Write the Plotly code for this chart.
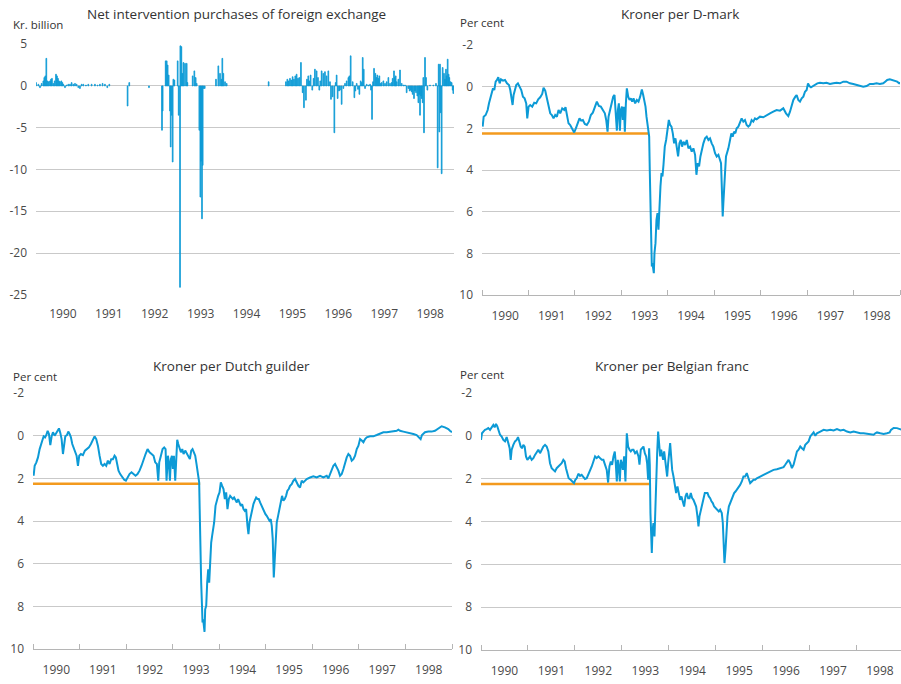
import plotly.graph_objects as go
import pandas as pd

# ---------------- data ----------------
# Net intervention purchases of foreign exchange, kr. billion (decimal year, value)
interv_year = [
    1989.913, 1989.964, 1990.000, 1990.036, 1990.073, 1990.094, 1990.116, 1990.138, 1990.160, 1990.189,
    1990.218, 1990.240, 1990.261, 1990.290, 1990.320, 1990.349, 1990.370, 1990.392, 1990.414, 1990.436,
    1990.465, 1990.487, 1990.508, 1990.545, 1990.581, 1990.617, 1990.654, 1990.690, 1990.726, 1990.763,
    1990.799, 1990.835, 1990.871, 1990.908, 1990.944, 1991.002, 1991.053, 1991.126, 1991.198, 1991.256,
    1991.307, 1991.365, 1991.416, 1991.467, 1991.511, 1991.910, 1991.946, 1992.375,
    1992.658, 1992.672, 1992.738, 1992.760, 1992.781, 1992.803, 1992.832, 1992.847, 1992.869, 1992.890,
    1992.905, 1992.927, 1992.999, 1993.021, 1993.050, 1993.057, 1993.079, 1993.101, 1993.123, 1993.159,
    1993.195, 1993.210, 1993.326, 1993.362, 1993.391, 1993.413, 1993.471, 1993.493, 1993.508, 1993.529,
    1993.544, 1993.566, 1993.588, 1993.834, 1993.885, 1993.922, 1993.951, 1993.972, 1993.994, 1994.031,
    1994.067, 1994.982,
    1995.359, 1995.389, 1995.418, 1995.447, 1995.476, 1995.505, 1995.534, 1995.563, 1995.592, 1995.621,
    1995.650, 1995.686, 1995.723, 1995.752, 1995.795, 1995.817, 1995.846, 1995.868, 1995.897, 1995.933,
    1995.962, 1995.991, 1996.028, 1996.057, 1996.086, 1996.107, 1996.137, 1996.173, 1996.209, 1996.245,
    1996.282, 1996.318, 1996.340, 1996.376, 1996.413, 1996.442, 1996.463, 1996.485, 1996.514, 1996.536,
    1996.572, 1996.609, 1996.645, 1996.681, 1996.718, 1996.739, 1996.768, 1996.812, 1996.848, 1996.870,
    1996.899, 1996.928, 1996.957, 1996.986, 1997.008, 1997.030, 1997.052, 1997.081, 1997.117, 1997.153,
    1997.190, 1997.211, 1997.233, 1997.255, 1997.277, 1997.306, 1997.328, 1997.349, 1997.371, 1997.393,
    1997.422, 1997.444, 1997.480, 1997.516, 1997.553, 1997.589, 1997.625, 1997.662, 1997.683, 1997.712,
    1997.734, 1997.749, 1997.771, 1997.807, 1997.843, 1997.880, 1997.916, 1997.952, 1997.988, 1998.025,
    1998.054, 1998.076, 1998.097, 1998.119, 1998.148, 1998.170, 1998.192, 1998.221, 1998.243, 1998.264,
    1998.279, 1998.301, 1998.315, 1998.337, 1998.351, 1998.366, 1998.388, 1998.410, 1998.439, 1998.497,
    1998.569, 1998.627, 1998.664, 1998.686, 1998.700, 1998.715, 1998.729, 1998.751, 1998.773, 1998.802,
    1998.824, 1998.845, 1998.860, 1998.882, 1998.903, 1998.918, 1998.947, 1998.969, 1998.991, 1999.005,
]
interv_value = [
    0.4, 0.2, -0.2, 0.3, 0.6, 1.0, 1.2, 3.3, 0.6, 0.5,
    0.6, 0.8, 0.9, 0.3, 0.6, 1.4, 1.2, 0.9, 0.6, 0.5,
    0.6, 0.4, 0.2, -0.2, 0.1, 0.2, 0.2, 0.4, 0.2, 0.3,
    0.2, -0.2, -0.3, 0.2, 0.2, 0.1, 0.2, 0.2, 0.2, 0.1,
    0.2, 0.3, 0.2, -0.2, 0.2, -2.4, 0.4, -0.2,
    -5.3, -3.0, 3.0, 3.0, 2.5, 1.3, -3.0, -7.3, -3.5, -9.1,
    0.8, 0.7, 3.0, -3.5, -24.1, 4.8, 4.7, 1.5, 2.8, 2.7,
    2.7, 0.4, 1.2, 1.8, 1.0, 0.3, -5.3, -13.3, -9.0, -15.9,
    -9.5, -0.3, -0.3, 0.8, 2.4, 1.5, 0.8, 3.3, 1.5, 0.5,
    0.3, 0.5,
    0.5, 0.8, 0.6, 0.9, 0.7, 1.1, 0.8, 1.2, 1.4, 0.9,
    1.0, 2.8, -0.8, -2.6, -1.7, 0.8, 1.2, 0.6, 1.3, -0.5,
    0.9, 2.0, 1.8, 1.0, -0.5, 0.6, 1.8, 1.5, 1.7, 1.2,
    1.8, 0.5, -1.6, -1.3, -5.6, 0.4, 1.3, -1.5, -0.6, -0.5,
    -2.2, -0.3, 0.3, 0.6, 1.0, 1.2, 3.6, 0.5, -1.4, -0.6,
    0.3, -0.4, -1.0, 0.6, 0.4, 3.4, 2.0, -0.3, 0.2, 0.1,
    0.2, -0.5, -4.0, 0.5, 2.1, 1.5, 1.0, 1.3, 0.9, 1.2,
    0.3, 0.4, 0.6, 0.3, 0.5, 1.0, 0.3, 0.4, 0.9, 1.8,
    1.0, 1.2, 0.5, 0.8, 1.9, 0.3, 0.1, 0.1, -0.8, -0.3,
    -0.6, -0.5, -0.7, -1.0, -1.5, -0.6, -0.8, -1.2, -2.0, -1.0,
    -3.5, -1.2, -1.5, -2.0, 1.0, -5.6, 3.4, 1.0, -0.5, 0.1,
    0.1, 0.3, -9.8, 2.6, -5.5, 2.6, -3.2, -10.5, 2.2, 1.5,
    0.8, 2.0, 1.2, 3.2, 1.4, 1.0, 0.5, 0.4, -0.5, -0.9,
]

# Kroner per D-mark, per cent deviation (decimal year, value)
dem_year = [
    1990.014, 1990.036, 1990.079, 1990.122, 1990.151, 1990.179, 1990.208, 1990.237, 1990.265, 1990.294,
    1990.323, 1990.351, 1990.380, 1990.409, 1990.452, 1990.495, 1990.538, 1990.581, 1990.609, 1990.638,
    1990.659, 1990.681, 1990.710, 1990.738, 1990.774, 1990.810, 1990.846, 1990.882, 1990.918, 1990.953,
    1990.975, 1991.004, 1991.039, 1991.082, 1991.125, 1991.168, 1991.211, 1991.254, 1991.297, 1991.326,
    1991.362, 1991.398, 1991.434, 1991.470, 1991.505, 1991.541, 1991.577, 1991.613, 1991.649, 1991.685,
    1991.728, 1991.771, 1991.799, 1991.828, 1991.864, 1991.900, 1991.943, 1991.986, 1992.022, 1992.057,
    1992.100, 1992.136, 1992.172, 1992.215, 1992.258, 1992.301, 1992.344, 1992.387, 1992.430, 1992.473,
    1992.516, 1992.559, 1992.602, 1992.645, 1992.674, 1992.703, 1992.724, 1992.753, 1992.789, 1992.824,
    1992.853, 1992.882, 1992.903, 1992.925, 1992.946, 1992.968, 1992.989, 1993.011, 1993.032, 1993.054,
    1993.075, 1993.097, 1993.118, 1993.147, 1993.176, 1993.204, 1993.233, 1993.262, 1993.297, 1993.333,
    1993.369, 1993.405, 1993.441, 1993.470, 1993.498, 1993.520, 1993.541, 1993.563, 1993.584, 1993.599,
    1993.613, 1993.627, 1993.642, 1993.656, 1993.670, 1993.685, 1993.699, 1993.713, 1993.735, 1993.756,
    1993.778, 1993.799, 1993.821, 1993.842, 1993.864, 1993.885, 1993.907, 1993.935, 1993.964, 1993.993,
    1994.022, 1994.050, 1994.079, 1994.108, 1994.136, 1994.165, 1994.194, 1994.222, 1994.251, 1994.280,
    1994.308, 1994.337, 1994.373, 1994.409, 1994.444, 1994.480, 1994.516, 1994.552, 1994.588, 1994.617,
    1994.645, 1994.674, 1994.703, 1994.731, 1994.767, 1994.803, 1994.839, 1994.875, 1994.910, 1994.946,
    1994.982, 1995.018, 1995.054, 1995.090, 1995.125, 1995.147, 1995.168, 1995.183, 1995.197, 1995.211,
    1995.233, 1995.254, 1995.276, 1995.305, 1995.341, 1995.369, 1995.398, 1995.427, 1995.455, 1995.484,
    1995.520, 1995.556, 1995.591, 1995.627, 1995.663, 1995.699, 1995.735, 1995.771, 1995.806, 1995.842,
    1995.878, 1995.914, 1995.986, 1996.057, 1996.129, 1996.201, 1996.272, 1996.344, 1996.416, 1996.487,
    1996.545, 1996.595, 1996.631, 1996.667, 1996.703, 1996.746, 1996.774, 1996.810, 1996.846, 1996.882,
    1996.918, 1996.953, 1996.989, 1997.018, 1997.047, 1997.082, 1997.118, 1997.168, 1997.219, 1997.276,
    1997.348, 1997.419, 1997.491, 1997.563, 1997.634, 1997.706, 1997.778, 1997.849, 1997.921, 1997.993,
    1998.065, 1998.136, 1998.208, 1998.280, 1998.351, 1998.423, 1998.495, 1998.566, 1998.638, 1998.681,
    1998.724, 1998.781, 1998.839, 1998.896, 1998.939, 1998.982, 1999.004,
]
dem_value = [
    1.92, 1.44, 1.36, 1.12, 0.80, 0.56, 0.40, 0.08, 0.16, -0.24,
    -0.32, -0.45, -0.16, -0.35, -0.29, -0.32, -0.16, -0.08, 0.16, 0.48,
    0.88, 0.40, 0.08, -0.08, -0.16, 0.03, 0.16, 0.48, 0.56, 0.80,
    1.52, 0.96, 0.88, 0.96, 0.77, 0.80, 0.61, 0.51, 0.35, 0.05,
    0.19, 0.56, 0.96, 1.28, 1.36, 1.52, 1.36, 1.44, 1.12, 1.28,
    1.04, 1.12, 0.99, 1.36, 1.76, 1.84, 2.00, 2.20, 2.00, 1.79,
    1.52, 1.63, 1.60, 1.79, 1.84, 1.68, 1.36, 1.25, 0.96, 0.72,
    0.93, 0.96, 1.12, 1.28, 1.60, 2.16, 1.44, 1.12, 0.80, 0.48,
    0.40, 1.28, 2.11, 1.12, 0.80, 2.11, 1.12, 0.96, 1.60, 0.96,
    2.16, 0.80, 0.08, 0.48, 0.64, 0.56, 0.72, 0.56, 0.80, 0.64,
    0.72, 0.48, 0.13, 0.40, 0.64, 0.96, 1.44, 1.84, 2.24, 2.40,
    4.15, 6.23, 7.03, 8.63, 8.47, 8.87, 8.95, 7.99, 7.51, 6.39,
    6.07, 6.87, 5.43, 4.79, 4.15, 4.31, 3.75, 2.88, 2.56, 2.08,
    1.60, 1.84, 1.92, 2.24, 2.72, 2.48, 2.88, 3.35, 2.72, 2.56,
    2.88, 2.64, 2.80, 2.56, 2.96, 2.88, 3.12, 2.96, 3.27, 4.23,
    3.67, 3.83, 3.35, 3.04, 2.72, 2.48, 2.40, 2.56, 2.48, 2.72,
    2.88, 3.19, 3.35, 3.27, 3.59, 3.67, 5.11, 6.23, 5.59, 4.79,
    4.15, 3.35, 3.19, 2.96, 2.56, 2.24, 2.40, 2.16, 2.24, 2.00,
    1.92, 1.68, 1.52, 1.68, 1.60, 1.84, 1.92, 1.84, 1.60, 1.68,
    1.52, 1.57, 1.44, 1.47, 1.36, 1.28, 1.20, 1.12, 1.15, 1.04,
    1.28, 1.41, 1.20, 0.88, 0.64, 0.48, 0.40, 0.64, 0.72, 0.56,
    0.48, 0.24, 0.16, -0.16, -0.03, 0.03, -0.03, -0.08, -0.16, -0.19,
    -0.16, -0.19, -0.13, -0.16, -0.19, -0.16, -0.24, -0.24, -0.16, -0.13,
    -0.08, -0.05, 0.00, -0.03, -0.13, -0.13, -0.16, -0.13, -0.16, -0.24,
    -0.32, -0.35, -0.32, -0.29, -0.24, -0.16, -0.19,
]

# Kroner per Dutch guilder, per cent deviation
nlg_year = [
    1990.014, 1990.036, 1990.072, 1990.107, 1990.143, 1990.172, 1990.200, 1990.229, 1990.258, 1990.286,
    1990.315, 1990.343, 1990.372, 1990.401, 1990.429, 1990.465, 1990.501, 1990.529, 1990.558, 1990.587,
    1990.615, 1990.644, 1990.665, 1990.694, 1990.730, 1990.758, 1990.787, 1990.815, 1990.844, 1990.873,
    1990.908, 1990.937, 1990.966, 1990.994, 1991.030, 1991.073, 1991.116, 1991.159, 1991.202, 1991.245,
    1991.288, 1991.323, 1991.359, 1991.395, 1991.431, 1991.466, 1991.502, 1991.538, 1991.574, 1991.609,
    1991.645, 1991.681, 1991.717, 1991.753, 1991.781, 1991.803, 1991.838, 1991.874, 1991.917, 1991.960,
    1991.996, 1992.031, 1992.074, 1992.117, 1992.160, 1992.203, 1992.246, 1992.289, 1992.332, 1992.375,
    1992.418, 1992.461, 1992.504, 1992.547, 1992.589, 1992.625, 1992.661, 1992.690, 1992.711, 1992.747,
    1992.783, 1992.818, 1992.847, 1992.868, 1992.897, 1992.918, 1992.940, 1992.961, 1992.983, 1993.004,
    1993.026, 1993.054, 1993.076, 1993.097, 1993.119, 1993.147, 1993.176, 1993.205, 1993.233, 1993.269,
    1993.305, 1993.341, 1993.369, 1993.398, 1993.426, 1993.455, 1993.484, 1993.512, 1993.534, 1993.555,
    1993.569, 1993.584, 1993.598, 1993.612, 1993.627, 1993.641, 1993.655, 1993.670, 1993.684, 1993.698,
    1993.720, 1993.741, 1993.763, 1993.784, 1993.806, 1993.827, 1993.848, 1993.870, 1993.891, 1993.920,
    1993.949, 1993.977, 1994.006, 1994.034, 1994.063, 1994.092, 1994.120, 1994.149, 1994.177, 1994.206,
    1994.235, 1994.263, 1994.292, 1994.320, 1994.349, 1994.378, 1994.406, 1994.435, 1994.464, 1994.492,
    1994.521, 1994.549, 1994.578, 1994.607, 1994.628, 1994.650, 1994.678, 1994.707, 1994.735, 1994.764,
    1994.793, 1994.821, 1994.850, 1994.878, 1994.907, 1994.936, 1994.964, 1994.993, 1995.021, 1995.050,
    1995.079, 1995.107, 1995.129, 1995.150, 1995.172, 1995.186, 1995.207, 1995.236, 1995.265, 1995.293,
    1995.322, 1995.350, 1995.379, 1995.408, 1995.436, 1995.465, 1995.494, 1995.522, 1995.558, 1995.594,
    1995.630, 1995.665, 1995.701, 1995.737, 1995.773, 1995.808, 1995.844, 1995.880, 1995.951, 1996.023,
    1996.094, 1996.166, 1996.238, 1996.309, 1996.345, 1996.381, 1996.416, 1996.452, 1996.488, 1996.524,
    1996.559, 1996.595, 1996.631, 1996.667, 1996.702, 1996.738, 1996.774, 1996.810, 1996.845, 1996.881,
    1996.917, 1996.953, 1996.989, 1997.024, 1997.060, 1997.096, 1997.132, 1997.167, 1997.239, 1997.310,
    1997.382, 1997.454, 1997.525, 1997.597, 1997.668, 1997.740, 1997.811, 1997.847, 1997.883, 1997.954,
    1998.026, 1998.097, 1998.169, 1998.240, 1998.298, 1998.326, 1998.355, 1998.419, 1998.491, 1998.562,
    1998.634, 1998.705, 1998.777, 1998.848, 1998.920, 1998.956, 1998.999,
]
nlg_value = [
    1.88, 1.41, 1.25, 1.02, 0.63, 0.47, 0.23, 0.03, 0.08, -0.03,
    -0.23, -0.08, 0.44, 0.03, -0.16, 0.00, -0.16, -0.23, -0.34, -0.13,
    0.16, 0.86, 0.39, 0.03, -0.03, -0.19, -0.08, 0.08, 0.39, 0.55,
    0.78, 0.94, 1.41, 0.94, 0.86, 0.91, 0.70, 0.63, 0.55, 0.39,
    0.23, 0.03, 0.16, 0.47, 0.94, 1.33, 1.41, 1.33, 1.41, 1.17,
    1.33, 1.10, 1.10, 0.94, 1.02, 1.33, 1.64, 1.80, 1.96, 2.07,
    2.11, 1.96, 1.80, 1.72, 1.80, 1.88, 1.80, 1.64, 1.41, 1.10,
    0.86, 0.63, 0.78, 0.86, 0.94, 1.25, 1.33, 2.11, 1.25, 0.94,
    0.63, 0.55, 0.63, 2.11, 0.94, 1.25, 2.11, 1.10, 0.94, 1.56,
    0.94, 2.11, 0.63, 0.19, 0.39, 0.63, 0.78, 0.63, 0.86, 0.70,
    0.86, 0.94, 1.10, 0.70, 0.63, 0.78, 0.94, 1.33, 1.64, 1.96,
    2.19, 3.91, 6.26, 6.89, 7.82, 8.76, 8.61, 8.92, 9.20, 8.14,
    7.98, 6.89, 6.26, 6.89, 5.63, 5.01, 4.69, 4.38, 4.07, 3.29,
    2.97, 2.82, 2.66, 2.19, 2.35, 2.50, 2.97, 2.66, 3.44, 2.97,
    2.82, 2.90, 2.97, 2.90, 3.05, 3.13, 2.97, 3.13, 3.29, 3.21,
    3.44, 3.52, 3.44, 4.23, 4.62, 4.07, 3.76, 3.44, 3.21, 3.05,
    2.90, 2.97, 2.97, 3.13, 3.29, 3.44, 3.60, 3.68, 3.76, 3.91,
    3.99, 3.91, 4.23, 4.85, 6.65, 6.10, 4.85, 4.07, 3.76, 3.44,
    3.29, 2.82, 3.05, 2.97, 2.82, 2.58, 2.50, 2.35, 2.27, 2.11,
    2.03, 2.19, 2.35, 2.43, 2.11, 2.19, 2.11, 2.03, 1.96, 1.91,
    1.96, 1.88, 1.96, 1.88, 2.00, 1.80, 1.64, 1.41, 1.33, 1.49,
    1.64, 1.88, 1.80, 1.56, 1.25, 1.02, 0.86, 0.94, 1.17, 1.10,
    0.94, 0.63, 0.47, 0.16, 0.23, 0.31, 0.16, 0.08, 0.03, 0.03,
    -0.03, -0.08, -0.16, -0.16, -0.19, -0.19, -0.23, -0.28, -0.23, -0.19,
    -0.16, -0.13, -0.08, -0.03, 0.08, 0.16, -0.03, -0.16, -0.19, -0.19,
    -0.23, -0.34, -0.44, -0.39, -0.31, -0.23, -0.16,
]

# Kroner per Belgian franc, per cent deviation
bef_year = [
    1990.000, 1990.021, 1990.050, 1990.085, 1990.121, 1990.156, 1990.192, 1990.227, 1990.263, 1990.291,
    1990.320, 1990.348, 1990.377, 1990.405, 1990.441, 1990.476, 1990.512, 1990.547, 1990.583, 1990.611,
    1990.633, 1990.654, 1990.689, 1990.725, 1990.760, 1990.789, 1990.817, 1990.846, 1990.874, 1990.903,
    1990.931, 1990.959, 1990.988, 1991.016, 1991.045, 1991.080, 1991.116, 1991.151, 1991.187, 1991.222,
    1991.258, 1991.294, 1991.329, 1991.365, 1991.400, 1991.436, 1991.471, 1991.507, 1991.542, 1991.578,
    1991.613, 1991.649, 1991.684, 1991.720, 1991.755, 1991.784, 1991.812, 1991.841, 1991.869, 1991.912,
    1991.955, 1991.983, 1992.011, 1992.040, 1992.075, 1992.111, 1992.146, 1992.182, 1992.217, 1992.253,
    1992.289, 1992.324, 1992.360, 1992.395, 1992.431, 1992.466, 1992.502, 1992.537, 1992.573, 1992.608,
    1992.644, 1992.679, 1992.708, 1992.736, 1992.765, 1992.793, 1992.822, 1992.850, 1992.871, 1992.893,
    1992.914, 1992.935, 1992.957, 1992.978, 1992.999, 1993.021, 1993.049, 1993.077, 1993.106, 1993.134,
    1993.163, 1993.191, 1993.220, 1993.248, 1993.283, 1993.319, 1993.355, 1993.376, 1993.404, 1993.433,
    1993.461, 1993.490, 1993.518, 1993.539, 1993.561, 1993.582, 1993.596, 1993.610, 1993.625, 1993.639,
    1993.653, 1993.674, 1993.696, 1993.710, 1993.731, 1993.753, 1993.774, 1993.795, 1993.817, 1993.838,
    1993.859, 1993.881, 1993.902, 1993.923, 1993.945, 1993.966, 1993.987, 1994.009, 1994.030, 1994.051,
    1994.073, 1994.101, 1994.129, 1994.158, 1994.186, 1994.215, 1994.243, 1994.271, 1994.300, 1994.328,
    1994.357, 1994.385, 1994.414, 1994.442, 1994.470, 1994.499, 1994.527, 1994.556, 1994.584, 1994.612,
    1994.634, 1994.655, 1994.684, 1994.712, 1994.740, 1994.769, 1994.797, 1994.826, 1994.854, 1994.883,
    1994.911, 1994.939, 1994.968, 1994.996, 1995.025, 1995.067, 1995.096, 1995.131, 1995.153, 1995.174,
    1995.188, 1995.210, 1995.231, 1995.252, 1995.281, 1995.309, 1995.338, 1995.366, 1995.394, 1995.423,
    1995.451, 1995.487, 1995.522, 1995.558, 1995.593, 1995.629, 1995.664, 1995.700, 1995.736, 1995.771,
    1995.807, 1995.842, 1995.878, 1995.949, 1996.020, 1996.091, 1996.162, 1996.233, 1996.304, 1996.375,
    1996.446, 1996.482, 1996.517, 1996.553, 1996.588, 1996.624, 1996.660, 1996.695, 1996.731, 1996.766,
    1996.802, 1996.837, 1996.873, 1996.908, 1996.944, 1996.979, 1997.015, 1997.050, 1997.086, 1997.122,
    1997.157, 1997.228, 1997.299, 1997.370, 1997.441, 1997.513, 1997.584, 1997.655, 1997.726, 1997.797,
    1997.868, 1997.939, 1998.010, 1998.081, 1998.152, 1998.224, 1998.295, 1998.366, 1998.401, 1998.437,
    1998.508, 1998.579, 1998.650, 1998.707, 1998.735, 1998.792, 1998.863, 1998.920, 1998.955, 1999.005,
]
bef_value = [
    0.19, -0.12, -0.20, -0.28, -0.31, -0.36, -0.28, -0.40, -0.51, -0.40,
    -0.56, -0.44, -0.20, -0.05, 0.03, 0.19, 0.26, 0.06, 0.34, 0.58,
    1.12, 0.65, 0.42, 0.26, 0.19, 0.06, 0.26, 0.50, 0.58, 0.42,
    0.50, 0.96, 1.12, 1.04, 0.96, 1.12, 1.04, 0.89, 0.73, 0.65,
    0.81, 0.65, 0.50, 0.42, 0.50, 0.73, 1.28, 1.51, 1.59, 1.66,
    1.51, 1.43, 1.35, 1.28, 1.12, 1.20, 1.51, 1.82, 1.98, 2.05,
    2.13, 2.21, 2.05, 1.98, 1.77, 1.87, 1.82, 1.93, 2.02, 1.98,
    1.82, 1.59, 1.43, 1.20, 0.96, 1.04, 0.96, 1.04, 1.12, 1.12,
    1.35, 1.59, 2.18, 1.43, 1.20, 1.35, 0.96, 0.73, 1.28, 2.13,
    1.12, 1.43, 2.13, 1.12, 1.28, 1.59, 0.96, 2.13, -0.12, 0.50,
    0.65, 0.73, 0.65, 0.65, 0.81, 0.73, 0.96, 1.35, 0.65, 0.58,
    0.50, 0.81, 0.96, 1.28, 2.05, 0.58, 1.35, 3.61, 4.39, 5.47,
    4.46, 4.07, 4.70, 3.45, 1.90, 0.81, -0.20, 0.34, 0.96, 0.65,
    0.96, 1.12, 0.73, 1.12, 1.74, 1.90, 1.28, 0.65, 0.34, 0.96,
    1.59, 1.90, 2.21, 2.67, 2.36, 2.67, 2.99, 2.83, 3.14, 3.30,
    2.83, 2.67, 2.91, 2.91, 2.67, 2.91, 2.99, 3.14, 3.30, 3.76,
    4.23, 3.76, 3.45, 3.14, 2.83, 2.67, 2.67, 2.67, 2.83, 2.91,
    3.06, 3.14, 3.30, 3.37, 3.45, 3.53, 3.45, 3.61, 4.07, 5.16,
    5.94, 5.32, 4.39, 3.76, 3.30, 3.14, 2.99, 2.83, 2.67, 2.60,
    2.52, 2.44, 2.29, 2.13, 1.90, 1.90, 1.74, 1.98, 2.21, 2.13,
    2.05, 2.05, 1.98, 1.90, 1.82, 1.74, 1.66, 1.59, 1.56, 1.51,
    1.46, 1.35, 1.20, 1.12, 1.28, 1.51, 1.35, 1.04, 0.73, 0.65,
    0.50, 0.58, 0.65, 0.42, 0.34, 0.26, 0.03, -0.05, -0.16, 0.00,
    -0.12, -0.20, -0.28, -0.25, -0.28, -0.25, -0.31, -0.25, -0.28, -0.20,
    -0.16, -0.20, -0.16, -0.12, -0.12, -0.09, -0.09, -0.05, -0.12, -0.16,
    -0.12, -0.09, -0.12, -0.16, -0.28, -0.37, -0.36, -0.31, -0.28, -0.25,
]

# ERM fluctuation band limit (per cent) and the period it applied
band_limit = 2.25
band_years = [1990.0, 1993.59]

# axis ticks and labels
interv_ticks = [5, 0, -5, -10, -15, -20, -25]
interv_ticklabels = ["5", "0", "-5", "-10", "-15", "-20", "-25"]
pct_ticks = [-2, 0, 2, 4, 6, 8, 10]
pct_ticklabels = ["-2", "0", "2", "4", "6", "8", "10"]
axis_years = [1990, 1999]

for a, b in [(interv_year, interv_value), (dem_year, dem_value), (nlg_year, nlg_value), (bef_year, bef_value)]:
    assert len(a) == len(b), (len(a), len(b))


def to_date(y):
    yr = int(y // 1)
    start = pd.Timestamp(year=yr, month=1, day=1)
    end = pd.Timestamp(year=yr + 1, month=1, day=1)
    return start + (end - start) * (y - yr)


def dates(ys):
    return [to_date(y) for y in ys]


# ---------------- styling ----------------
W, H = 901, 684
BLUE = "#0c9ad6"
ORANGE = "#f39a1e"
GRID = "#c9c9c9"
TICKC = "#4a4a4a"
FONT = "Open Sans"


def px_x(a, b):
    return [a / W, min(b / W, 1.0)]


def px_y(top, bottom):
    return [(H - bottom) / H, (H - top) / H]


fig = go.Figure()

# top-left: bars
fig.add_trace(go.Bar(
    x=dates(interv_year), y=interv_value, xaxis="x", yaxis="y",
    width=6 * 86400000, marker=dict(color=BLUE, line=dict(color=BLUE, width=0.8)),
))

# line panels
for xa, ya, yrs, vals in [("x2", "y2", dem_year, dem_value),
                          ("x3", "y3", nlg_year, nlg_value),
                          ("x4", "y4", bef_year, bef_value)]:
    fig.add_trace(go.Scatter(
        x=dates(band_years), y=[band_limit, band_limit], xaxis=xa, yaxis=ya,
        mode="lines", line=dict(color=ORANGE, width=2.5), hoverinfo="skip",
    ))
    fig.add_trace(go.Scatter(
        x=dates(yrs), y=vals, xaxis=xa, yaxis=ya,
        mode="lines", line=dict(color=BLUE, width=2),
    ))

tickfont = dict(family=FONT, size=12, color=TICKC)


def xax(domain, anchor, rng, line):
    d = dict(
        domain=domain, anchor=anchor, type="date", range=rng, automargin=False,
        tick0="1990-01-01", dtick="M12", tickformat="%Y", ticklabelmode="period",
        showgrid=False, zeroline=False, tickfont=tickfont, fixedrange=True,
    )
    if line:
        d.update(showline=True, linecolor="#b5b5b5", linewidth=1,
                 ticks="inside", ticklen=5, tickcolor="#b5b5b5", ticklabelstandoff=10)
    else:
        d.update(showline=False, ticks="", ticklabelstandoff=10)
    return d


def yax(domain, anchor, rng, tv, tt):
    return dict(
        domain=domain, anchor=anchor, range=rng, tickmode="array", tickvals=tv, ticktext=tt,
        showgrid=True, gridcolor=GRID, gridwidth=1, zeroline=False, showline=False,
        ticks="", ticklabelstandoff=8, tickfont=tickfont, fixedrange=True, automargin=False,
    )


x0, x1 = axis_years
fig.update_layout(
    width=W, height=H, margin=dict(l=0, r=0, t=0, b=0, pad=0, autoexpand=False),
    paper_bgcolor="white", plot_bgcolor="white", showlegend=False,
    font=dict(family=FONT, color="#333333"),
    xaxis=xax(px_x(36, 454), "y", [to_date(1989.913), to_date(1999.02)], False),
    yaxis=yax(px_y(44, 295), "x", [-25.02, 5.02], interv_ticks, interv_ticklabels),
    xaxis2=xax(px_x(482, 900), "y2", [to_date(x0), to_date(x1)], True),
    yaxis2=yax(px_y(45, 295), "x2", [10, -2], pct_ticks, pct_ticklabels),
    xaxis3=xax(px_x(33, 452), "y3", [to_date(x0), to_date(x1)], True),
    yaxis3=yax(px_y(393, 649), "x3", [10, -2], pct_ticks, pct_ticklabels),
    xaxis4=xax(px_x(481, 901), "y4", [to_date(x0), to_date(1998.949)], True),
    yaxis4=yax(px_y(393, 650), "x4", [10, -2], pct_ticks, pct_ticklabels),
)

titles = [
    ("Net intervention purchases of foreign exchange", 236, 14, "center", 13.5),
    ("Kroner per D-mark", 680, 14, "center", 13.5),
    ("Kroner per Dutch guilder", 232, 366, "center", 13.5),
    ("Kroner per Belgian franc", 672, 366, "center", 13.5),
    ("Kr. billion", 11, 24, "left", 11.5),
    ("Per cent", 458, 22, "left", 11.5),
    ("Per cent", 11, 376, "left", 11.5),
    ("Per cent", 458, 374, "left", 11.5),
]
for text, x, y, anchor, size in titles:
    fig.add_annotation(
        text=text, x=x / W, y=(H - y) / H, xref="paper", yref="paper",
        xanchor=anchor, yanchor="middle", showarrow=False,
        font=dict(family=FONT, size=size, color="#333333"),
    )

fig.write_html(
    "out.html",
    config={"displayModeBar": False, "staticPlot": True},
    post_script="document.body.style.margin='0px'; document.body.style.overflow='hidden';",
)
